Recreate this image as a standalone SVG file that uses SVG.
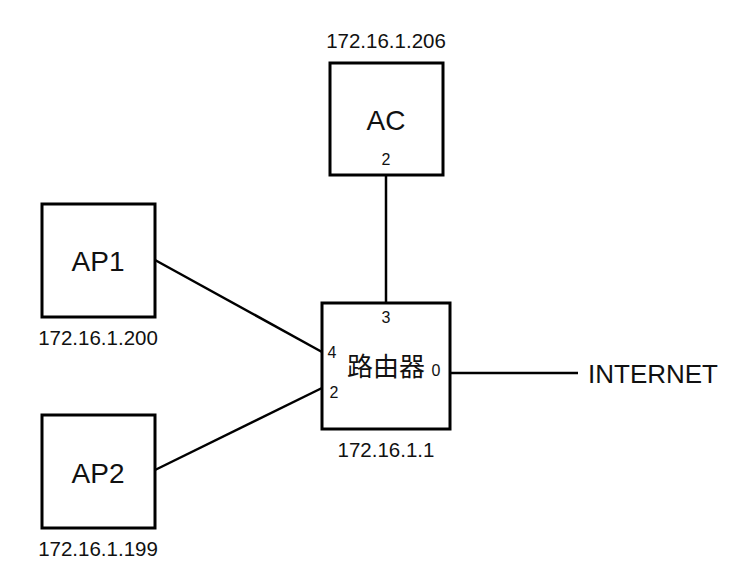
<svg xmlns="http://www.w3.org/2000/svg" width="748" height="575" viewBox="0 0 748 575">
<style>
.box{fill:#fff;stroke:#000;stroke-width:3}
.ln{stroke:#000;stroke-width:2.5;fill:none}
text{font-family:"Liberation Sans","Noto Sans CJK SC",Arial,sans-serif;fill:#111}
.ip{font-size:20.5px;text-anchor:middle}
.nm{font-size:28px;text-anchor:middle}
.pt{font-size:16px;text-anchor:middle}
</style>
<rect width="748" height="575" fill="#fff"/>
<g id="connectors">
<line class="ln" x1="155" y1="260" x2="322" y2="352"/>
<line class="ln" x1="155" y1="470" x2="322" y2="388"/>
<line class="ln" x1="386" y1="175" x2="386" y2="303"/>
<line class="ln" x1="450" y1="373" x2="578" y2="373"/>
</g>
<g id="ac">
<rect class="box" x="330" y="63" width="113" height="112"/>
<text class="ip" x="386" y="48">172.16.1.206</text>
<text class="nm" x="386" y="130">AC</text>
<text class="pt" x="386" y="165">2</text>
</g>
<g id="router">
<rect class="box" x="322" y="303" width="128" height="126"/>
<text class="pt" x="386" y="323">3</text>
<text class="pt" x="332" y="358">4</text>
<text class="pt" x="334" y="398">2</text>
<text class="pt" x="436" y="376">0</text>
<text x="386" y="376" font-size="26" text-anchor="middle">路由器</text>
<text class="ip" x="386" y="457">172.16.1.1</text>
</g>
<g id="ap1">
<rect class="box" x="42" y="204" width="113" height="113"/>
<text class="nm" x="98" y="271">AP1</text>
<text class="ip" x="98" y="345">172.16.1.200</text>
</g>
<g id="ap2">
<rect class="box" x="42" y="415" width="113" height="113"/>
<text class="nm" x="98" y="483">AP2</text>
<text class="ip" x="98" y="556">172.16.1.199</text>
</g>
<g id="internet">
<text x="588" y="383" font-size="26">INTERNET</text>
</g>
</svg>
